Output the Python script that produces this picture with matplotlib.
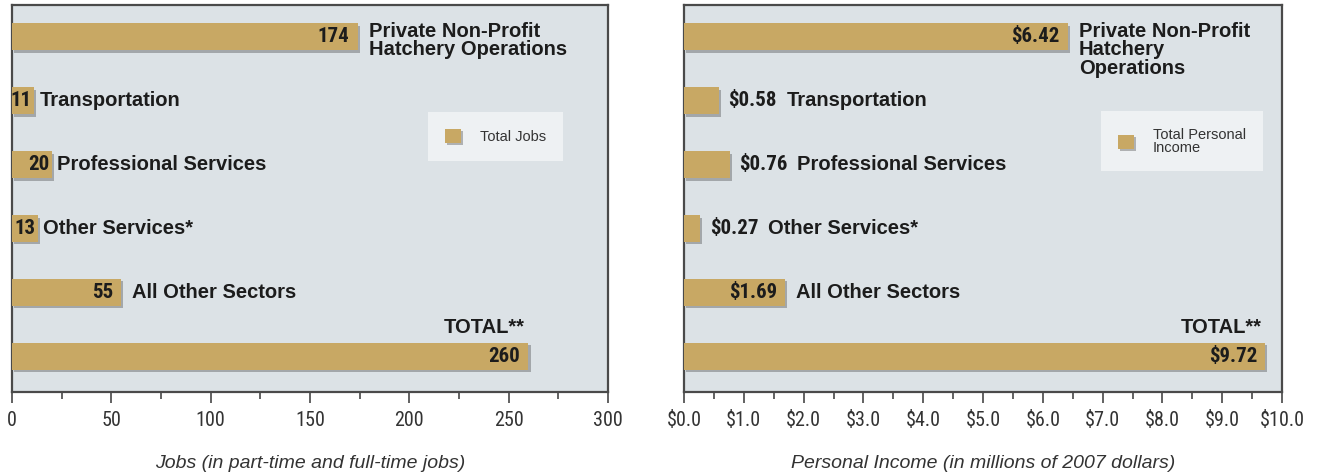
import matplotlib
matplotlib.use("Agg")
import matplotlib.pyplot as plt
import matplotlib.patheffects as pe
from matplotlib import font_manager
from matplotlib.ticker import MultipleLocator, FuncFormatter

# --- data ---
sectors_jobs = ["Private Non-Profit\nHatchery Operations", "Transportation",
                "Professional Services", "Other Services*", "All Other Sectors", "TOTAL**"]
sectors_income = ["Private Non-Profit\nHatchery\nOperations", "Transportation",
                  "Professional Services", "Other Services*", "All Other Sectors", "TOTAL**"]
jobs = [174, 11, 20, 13, 55, 260]
income = [6.42, 0.58, 0.76, 0.27, 1.69, 9.72]
jobs_labels = ["174", "11", "20", "13", "55", "260"]
income_labels = ["$6.42", "$0.58", "$0.76", "$0.27", "$1.69", "$9.72"]

BAR = "#c8a864"
BG = "#dce2e6"
LEG_BG = "#eef1f3"
TXT = "#1c1c1c"
REG = ["Liberation Sans", "DejaVu Sans"]

# condensed face for numbers if one is installed, else the regular one (a bit smaller)
installed = {f.name for f in font_manager.fontManager.ttflist}
narrow = [n for n in ["Liberation Sans Narrow", "Roboto Condensed", "Arial Narrow"] if n in installed]
NARROW = narrow[:1] + REG
NUM_SCALE = 1.0 if narrow else 0.88

fig = plt.figure(figsize=(13.17, 4.74), dpi=100)
ax1 = fig.add_axes([0.00911, 0.1730, 0.4525, 0.8165])
ax2 = fig.add_axes([0.5194, 0.1730, 0.4541, 0.8165])

shadow = [pe.SimplePatchShadow(offset=(1.5, -1.8), shadow_rgbFace="#3a3a3a", alpha=0.35), pe.Normal()]


def draw_panel(ax, cats, vals, vlabels, xmax, major, minor, fmt, xlabel, legend_text,
               leg_xy, inside_min):
    pos = list(range(len(vals)))
    h = 0.42
    bars = ax.barh(pos, vals, height=h, color=BAR, label=legend_text, zorder=3)
    for b in bars:
        b.set_path_effects(shadow)

    ax.set_xlim(0, xmax)
    ax.set_ylim(5.56, -0.5)
    ax.set_facecolor(BG)
    for s in ax.spines.values():
        s.set_color("#4a4a4a")
        s.set_linewidth(1.6)
    ax.set_yticks([])
    ax.xaxis.set_major_locator(MultipleLocator(major))
    ax.xaxis.set_minor_locator(MultipleLocator(minor))
    ax.xaxis.set_major_formatter(FuncFormatter(fmt))
    ax.tick_params(axis="x", which="major", length=8, width=1.3, color="#555555",
                   pad=6, labelsize=14.5 * NUM_SCALE, labelcolor="#333333")
    ax.tick_params(axis="x", which="minor", length=5, width=1.3, color="#555555")
    for t in ax.get_xticklabels():
        t.set_family(NARROW)
    ax.set_xlabel(xlabel, fontsize=14, style="italic", color="#333333",
                  family=REG, labelpad=18)

    num_size = 15 * NUM_SCALE
    px_per_unit = fig.get_figwidth() * fig.dpi * ax.get_position().width / xmax

    last = len(vals) - 1
    for i, (cat, v, vl) in enumerate(zip(cats, vals, vlabels)):
        pad_in = -6 if v * px_per_unit > 40 else -1.5
        if i == last:
            ax.annotate(vl, xy=(v, i), xytext=(pad_in, 0), textcoords="offset points",
                        ha="right", va="center", fontsize=num_size, fontweight="bold",
                        family=NARROW, color=TXT, zorder=4)
            ax.annotate(cat, xy=(v, i - h / 2), xytext=(-3, 4), textcoords="offset points",
                        ha="right", va="bottom", fontsize=14.5, fontweight="bold",
                        family=REG, color=TXT)
            continue
        multi = "\n" in cat
        if v >= inside_min:
            ax.annotate(vl, xy=(v, i), xytext=(pad_in, 0), textcoords="offset points",
                        ha="right", va="center", fontsize=num_size, fontweight="bold",
                        family=NARROW, color=TXT, zorder=4)
            anchor_xy, anchor_cs = (v, i - h / 2 if multi else i), "data"
            off = (8 if v * px_per_unit > 40 else 4, 1 if multi else 0)
        else:
            vt = ax.annotate(vl, xy=(v, i), xytext=(7, 0), textcoords="offset points",
                             ha="left", va="center", fontsize=num_size, fontweight="bold",
                             family=NARROW, color=TXT, zorder=4)
            anchor_xy, anchor_cs = (1, 0.5), vt
            off = (7, 0)
        ax.annotate(cat, xy=anchor_xy, xycoords=anchor_cs, xytext=off,
                    textcoords="offset points", ha="left",
                    va="top" if multi else "center", fontsize=14.5, fontweight="bold",
                    family=REG, color=TXT, linespacing=0.95)

    leg = ax.legend(loc="upper left", bbox_to_anchor=leg_xy, bbox_transform=fig.transFigure,
                    borderaxespad=0, frameon=True, fancybox=False, facecolor=LEG_BG,
                    edgecolor="none", framealpha=1, handlelength=1.1,
                    handleheight=1.1, handletextpad=1.3, borderpad=1.15,
                    prop={"family": REG, "size": 10.5})
    for t in leg.get_texts():
        t.set_color("#333333")
        t.set_linespacing(0.9)


draw_panel(ax1, sectors_jobs, jobs, jobs_labels, 300, 50, 25,
           lambda x, p: f"{x:.0f}", "Jobs (in part-time and full-time jobs)",
           "Total Jobs", (0.325, 0.7637), 0)
draw_panel(ax2, sectors_income, income, income_labels, 10, 1, 0.5,
           lambda x, p: f"${x:.1f}", "Personal Income (in millions of 2007 dollars)",
           "Total Personal\nIncome", (0.836, 0.766), 1.0)

fig.savefig("out.png", dpi=100)
